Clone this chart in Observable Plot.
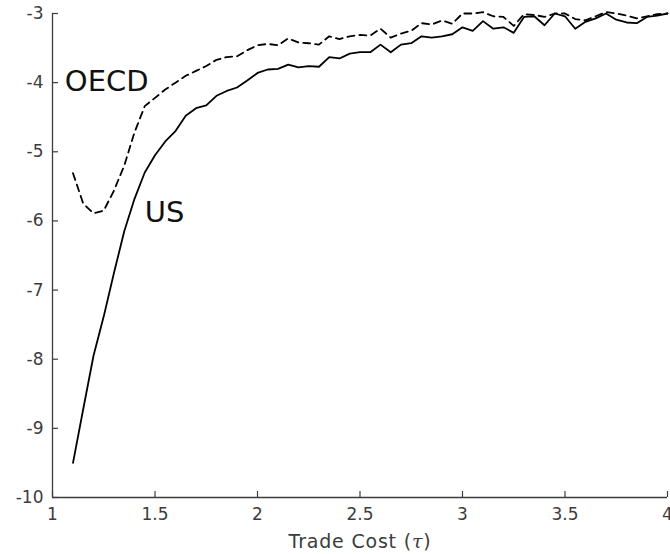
<!DOCTYPE html>
<html>
<head>
<meta charset="utf-8">
<script src="https://cdn.jsdelivr.net/npm/d3@7"></script>
<script src="https://cdn.jsdelivr.net/npm/@observablehq/plot@0.6"></script>
<style>
  html, body { margin: 0; padding: 0; background: #fff; }
  #chart svg { display: block; }
</style>
</head>
<body>
<div id="chart"></div>
<script>
const tau = [1.10,1.15,1.20,1.25,1.30,1.35,1.40,1.45,1.50,1.55,1.60,1.65,1.70,1.75,1.80,1.85,1.90,1.95,2.00,
  2.05,2.10,2.15,2.20,2.25,2.30,2.35,2.40,2.45,2.50,2.55,2.60,2.65,2.70,2.75,2.80,2.85,2.90,2.95,3.00,
  3.05,3.10,3.15,3.20,3.25,3.30,3.35,3.40,3.45,3.50,3.55,3.60,3.65,3.70,3.75,3.80,3.85,3.90,3.95,4.00];

const usValues = [-9.50,-8.72,-7.95,-7.38,-6.75,-6.15,-5.68,-5.30,-5.05,-4.85,-4.70,-4.48,-4.37,-4.33,-4.19,-4.12,-4.07,-3.97,-3.86,
  -3.81,-3.80,-3.74,-3.78,-3.76,-3.77,-3.63,-3.65,-3.58,-3.56,-3.56,-3.45,-3.56,-3.45,-3.43,-3.33,-3.35,-3.33,-3.30,-3.20,
  -3.25,-3.11,-3.22,-3.20,-3.28,-3.05,-3.04,-3.17,-3.00,-3.04,-3.22,-3.12,-3.07,-3.00,-3.09,-3.13,-3.14,-3.05,-3.03,-3.00];

const oecdValues = [-5.31,-5.75,-5.89,-5.85,-5.56,-5.20,-4.72,-4.34,-4.22,-4.10,-4.00,-3.90,-3.83,-3.76,-3.67,-3.63,-3.62,-3.53,-3.46,
  -3.44,-3.46,-3.36,-3.42,-3.43,-3.45,-3.33,-3.37,-3.33,-3.31,-3.32,-3.22,-3.35,-3.29,-3.25,-3.14,-3.16,-3.10,-3.15,-3.00,
  -3.00,-2.98,-3.04,-3.05,-3.18,-3.01,-3.02,-3.05,-3.00,-3.00,-3.08,-3.10,-3.04,-2.98,-3.00,-3.03,-3.07,-3.04,-3.01,-3.00];

const xDomain = [1, 4];
const yDomain = [-10, -3];
const xTicks = [1, 1.5, 2, 2.5, 3, 3.5, 4];
const yTicks = [-10, -9, -8, -7, -6, -5, -4, -3];
const seriesLabels = [
  {name: "OECD", x: 1.06, y: -3.98},
  {name: "US", x: 1.45, y: -5.88}
];
const xLabel = "Trade Cost (τ)";

const us = tau.map((t, i) => ({tau: t, value: usValues[i]}));
const oecd = tau.map((t, i) => ({tau: t, value: oecdValues[i]}));

const W = 670, H = 554, mL = 52, mR = 3, mT = 13, mB = 57, tickLen = 6;
const axisColor = "#3c3c3c";

const chart = Plot.plot({
  width: W,
  height: H,
  marginLeft: mL,
  marginRight: mR,
  marginTop: mT,
  marginBottom: mB,
  style: {fontFamily: "DejaVu Sans", fontSize: "17px", background: "#fff", color: axisColor},
  x: {domain: xDomain},
  y: {domain: yDomain},
  marks: [
    Plot.axisX(xTicks, {tickSize: 0, tickPadding: 10, fill: axisColor, fontSize: 17,
      label: null, tickFormat: d => String(d)}),
    Plot.axisY(yTicks, {tickSize: 0, tickPadding: 9, fill: axisColor, fontSize: 17,
      label: null, tickFormat: d => String(d)}),
    // inward tick marks
    Plot.tickX(xTicks, {x: d => d, stroke: axisColor, strokeWidth: 1.2,
      insetTop: H - mT - mB - tickLen}),
    Plot.tickY(yTicks, {y: d => d, stroke: axisColor, strokeWidth: 1.2,
      insetRight: W - mL - mR - tickLen}),
    Plot.ruleX([xDomain[0]], {stroke: axisColor, strokeWidth: 1.3}),
    Plot.ruleY([yDomain[0]], {stroke: axisColor, strokeWidth: 1.3}),
    Plot.line(oecd, {x: "tau", y: "value", stroke: "#000", strokeWidth: 1.8, strokeDasharray: "7,5"}),
    Plot.line(us, {x: "tau", y: "value", stroke: "#000", strokeWidth: 1.8}),
    Plot.text(seriesLabels, {x: "x", y: "y", text: "name", textAnchor: "start", fontSize: 29, fill: "#111"}),
    Plot.text([xLabel], {frameAnchor: "bottom", dy: 50, text: d => d, fontSize: 19, fill: axisColor,
      lineAnchor: "bottom", className: "xlabel"})
  ]
});

// italic tau in the axis label, slight letter spacing
d3.select(chart).selectAll(".xlabel text").each(function () {
  const el = d3.select(this);
  const s = el.text();
  const i = s.indexOf("τ");
  el.attr("letter-spacing", "0.8px");
  if (i >= 0) {
    el.text(null);
    el.append("tspan").text(s.slice(0, i));
    el.append("tspan").attr("font-style", "italic").attr("font-family", "DejaVu Serif").text("τ");
    el.append("tspan").text(s.slice(i + 1));
  }
});

document.getElementById("chart").appendChild(chart);
</script>
</body>
</html>
